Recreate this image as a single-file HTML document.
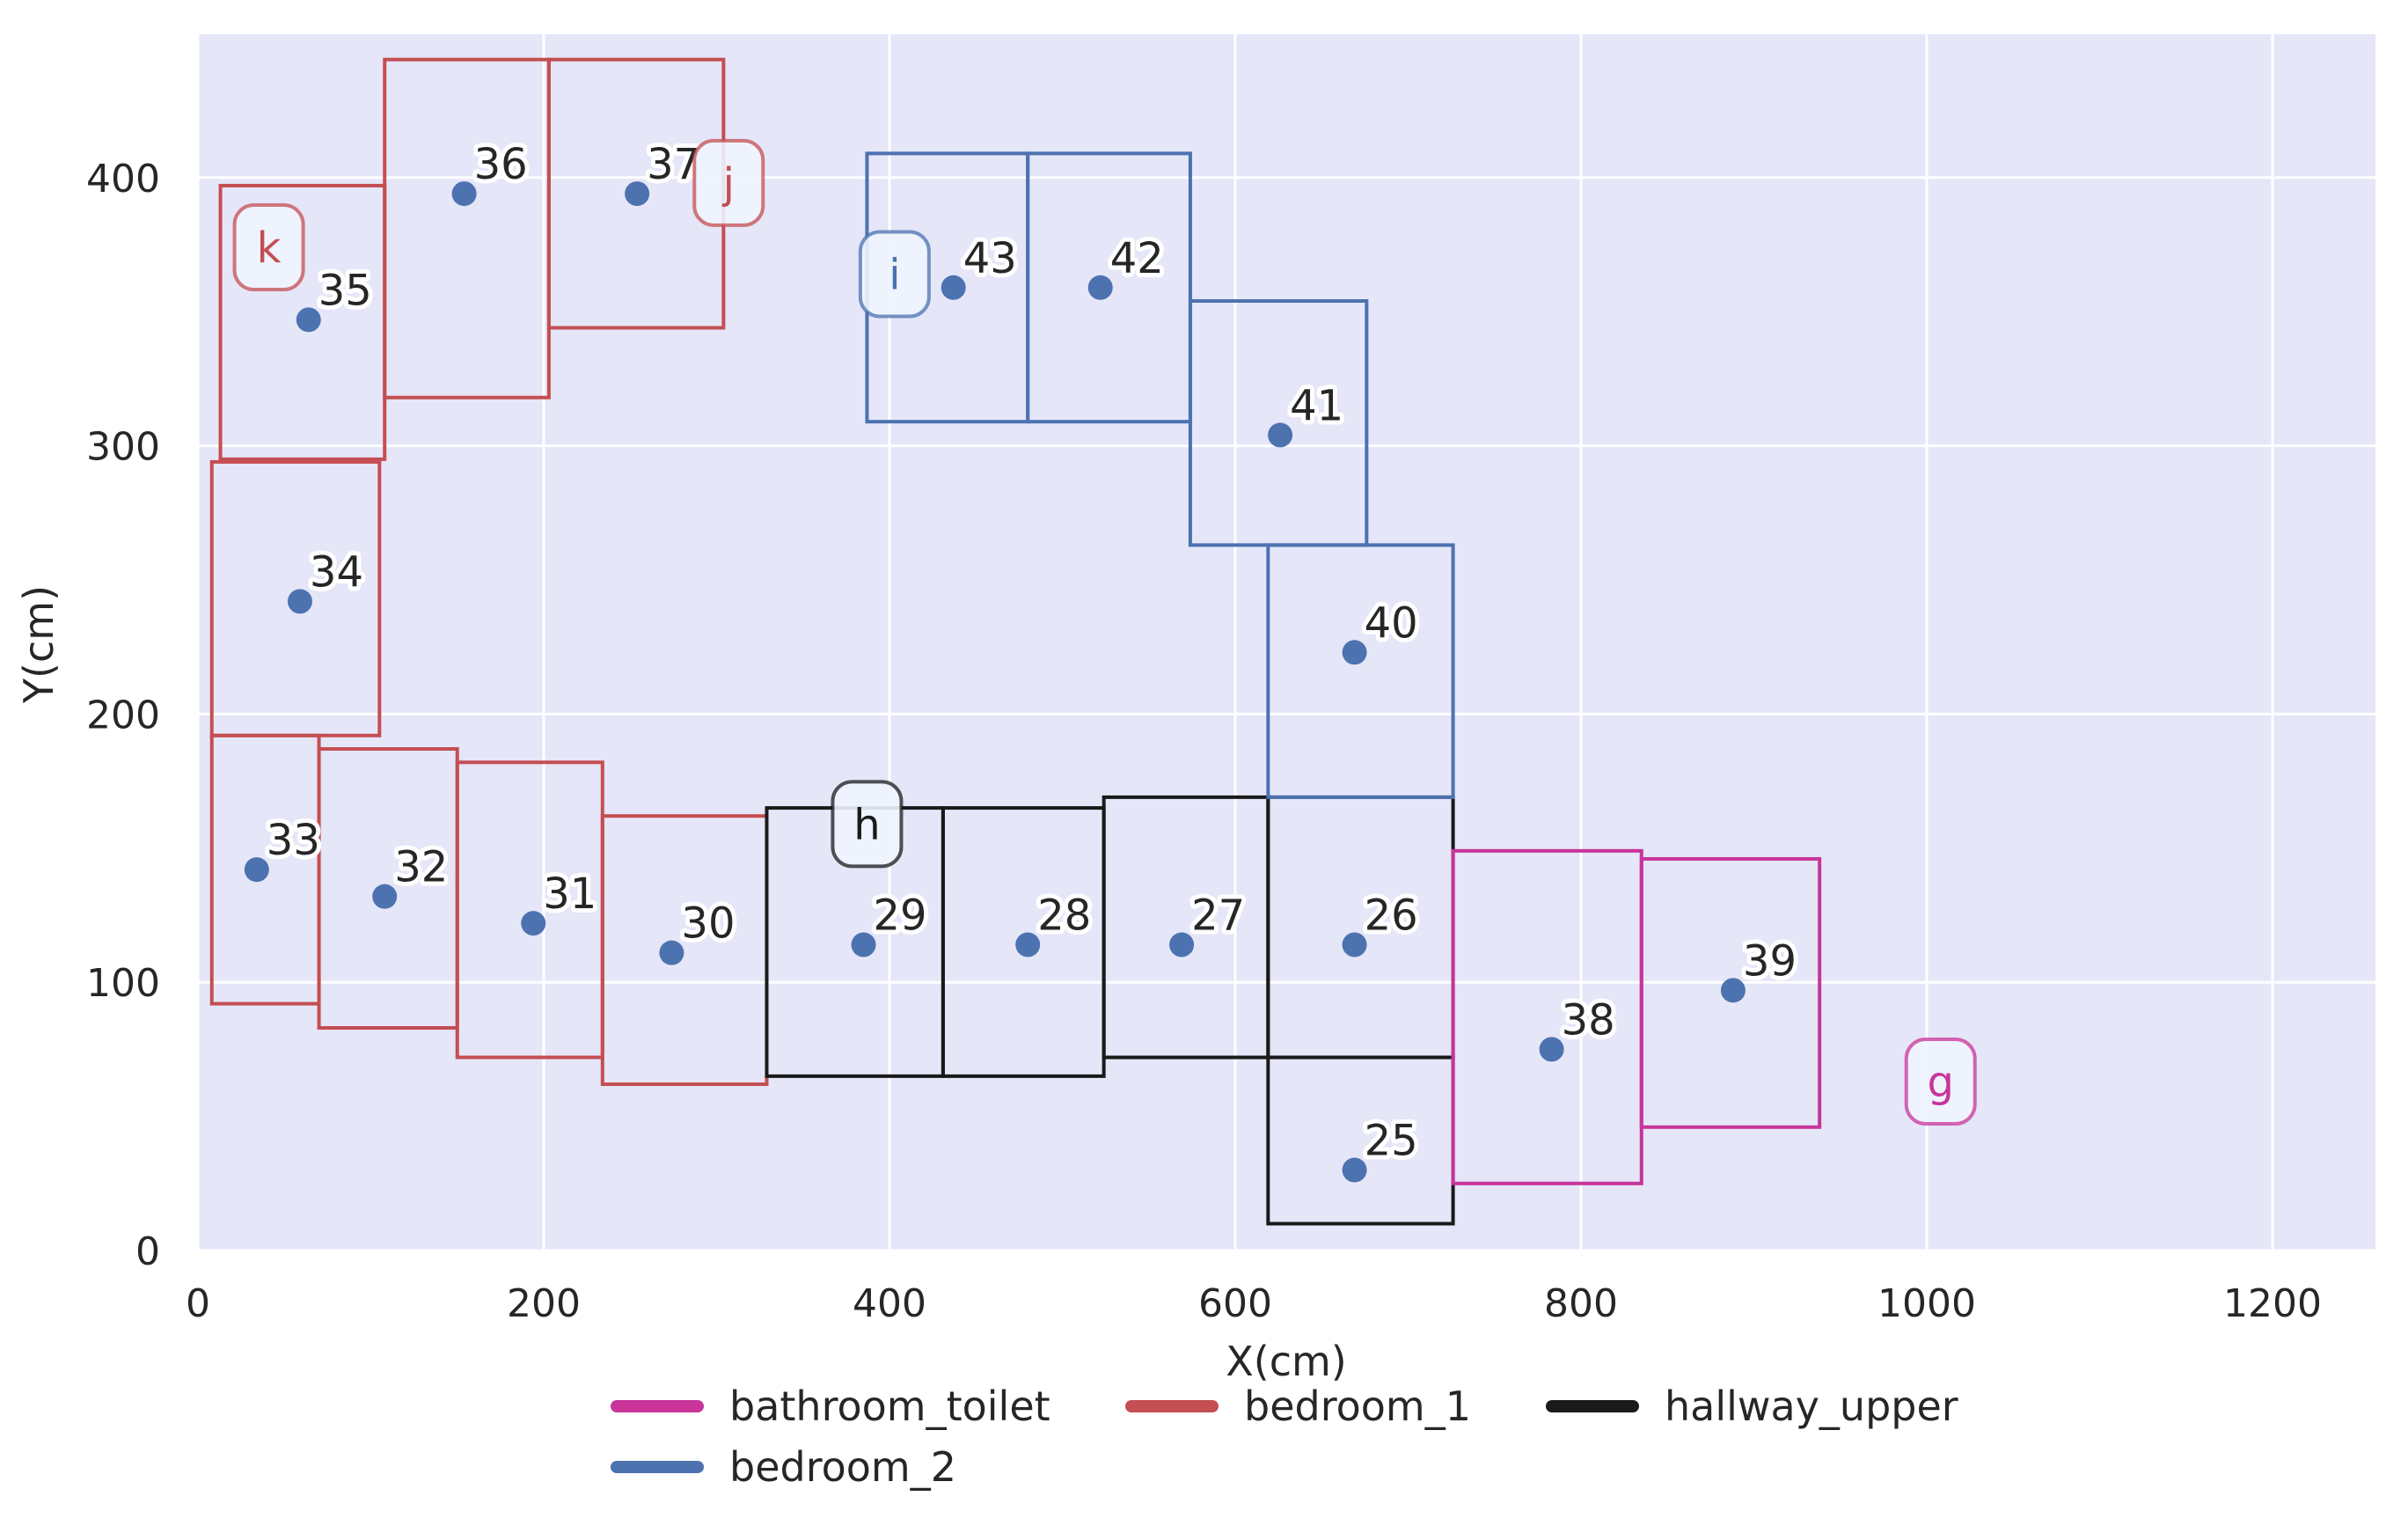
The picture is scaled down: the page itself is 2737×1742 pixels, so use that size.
<!DOCTYPE html>
<html><head><meta charset="utf-8"><style>
html,body{margin:0;padding:0;background:#fff}
svg{display:block;font-family:"DejaVu Sans","Liberation Sans",sans-serif}
</style></head><body>
<svg id="chart" width="2737" height="1742" viewBox="0 0 2737 1742">
<rect x="225" y="39" width="2475" height="1382" fill="#e5e6f8"/>
<g id="grid"></g>
<g id="rooms"></g>
<g id="points"></g>
<g id="tags"></g>
<g id="ticks"></g>
<text x="1462" y="1563" font-size="46" fill="#262626" text-anchor="middle">X(cm)</text>
<text transform="translate(60,732) rotate(-90)" font-size="46" fill="#262626" text-anchor="middle">Y(cm)</text>
<g id="legend"></g>
</svg>
<script>
const xTicks=[0,200,400,600,800,1000,1200];
const yTicks=[0,100,200,300,400];
const roomIds=[35,36,37,34,33,32,31,30,29,28,27,26,25,43,42,41,40,38,39];
const roomGroup=['bedroom_1','bedroom_1','bedroom_1','bedroom_1','bedroom_1','bedroom_1','bedroom_1','bedroom_1','hallway_upper','hallway_upper','hallway_upper','hallway_upper','hallway_upper','bedroom_2','bedroom_2','bedroom_2','bedroom_2','bathroom_toilet','bathroom_toilet'];
const rectX0=[13,108,203,8,8,70,150,234,329,431,524,619,619,387,480,574,619,726,835];
const rectX1=[108,203,304,105,70,150,234,329,431,524,619,726,726,480,574,676,726,835,938];
const rectY0=[295,318,344,192,92,83,72,62,65,65,72,72,10,309,309,263,169,25,46];
const rectY1=[397,444,444,294,192,187,182,162,165,165,169,169,72,409,409,354,263,149,146];
const pointX=[64,154,254,59,34,108,194,274,385,480,569,669,669,437,522,626,669,783,888];
const pointY=[347,394,394,242,142,132,122,111,114,114,114,114,30,359,359,304,223,75,97];
const tagLabels=['k','j','i','h','g'];
const tagGroup=['bedroom_1','bedroom_1','bedroom_2','hallway_upper','bathroom_toilet'];
const tagX=[41,307,403,387,1008];
const tagY=[374,398,364,159,63];
const legendLabels=['bathroom_toilet','bedroom_1','hallway_upper','bedroom_2'];

const colors={bathroom_toilet:'#c8349a',bedroom_1:'#c44e52',hallway_upper:'#1a1a1a',bedroom_2:'#4c72b0'};
const X0=225,XS=1.965,Y0=1421,YS=3.048;
const sx=v=>X0+v*XS, sy=v=>Y0-v*YS;
const NS='http://www.w3.org/2000/svg';
function mk(tag,attrs,parent){const e=document.createElementNS(NS,tag);for(const k in attrs)e.setAttribute(k,attrs[k]);parent.appendChild(e);return e;}
const G=id=>document.getElementById(id);

xTicks.forEach(t=>{
  const l=mk('line',{x1:sx(t),x2:sx(t),y1:39,y2:1421,stroke:'#fff','stroke-width':3},G('grid'));
  
  
  const tx=mk('text',{x:sx(t),y:1496,'font-size':44,fill:'#262626','text-anchor':'middle'},G('ticks'));
  tx.textContent=t;
  
  
});
yTicks.forEach(t=>{
  const l=mk('line',{x1:225,x2:2700,y1:sy(t),y2:sy(t),stroke:'#fff','stroke-width':3},G('grid'));
  
  
  const tx=mk('text',{x:182,y:sy(t)+16,'font-size':44,fill:'#262626','text-anchor':'end'},G('ticks'));
  tx.textContent=t;
  
  
});
roomIds.forEach((id,i)=>{
  const r=mk('rect',{x:sx(rectX0[i]),y:sy(rectY1[i]),width:(rectX1[i]-rectX0[i])*XS,height:(rectY1[i]-rectY0[i])*YS,fill:'none',stroke:colors[roomGroup[i]],'stroke-width':4},G('rooms'));
  
  
});
roomIds.forEach((id,i)=>{
  const c=mk('circle',{cx:sx(pointX[i]),cy:sy(pointY[i]),r:14,fill:'#4c72b0'},G('points'));
  
  
  const t=mk('text',{x:sx(pointX[i])+11,y:sy(pointY[i])-17,'font-size':48,fill:'#262626',stroke:'#fff','stroke-width':10,'stroke-linejoin':'round','paint-order':'stroke'},G('points'));
  t.textContent=id;
  
  
});
tagLabels.forEach((lab,i)=>{
  const cx=sx(tagX[i]),cy=sy(tagY[i]),col=colors[tagGroup[i]];
  const b=mk('rect',{x:cx-39,y:cy-48,width:78,height:96,rx:22,fill:'#eef4fd','fill-opacity':0.9,stroke:col,'stroke-opacity':0.75,'stroke-width':4},G('tags'));
  
  
  const t=mk('text',{x:cx,y:cy+17,'font-size':48,fill:col,'text-anchor':'middle'},G('tags'));
  t.textContent=lab;
  
  
});
const legPos=[[695,1598],[1280,1598],[1758,1598],[695,1667]];
legendLabels.forEach((lab,i)=>{
  const [x,y]=legPos[i];
  const l=mk('line',{x1:x+6,x2:x+98,y1:y,y2:y,stroke:colors[lab],'stroke-width':14,'stroke-linecap':'round'},G('legend'));
  
  
  const t=mk('text',{x:x+134,y:y+16,'font-size':46,fill:'#262626'},G('legend'));
  t.textContent=lab;
  
  
});
</script>
</body></html>
